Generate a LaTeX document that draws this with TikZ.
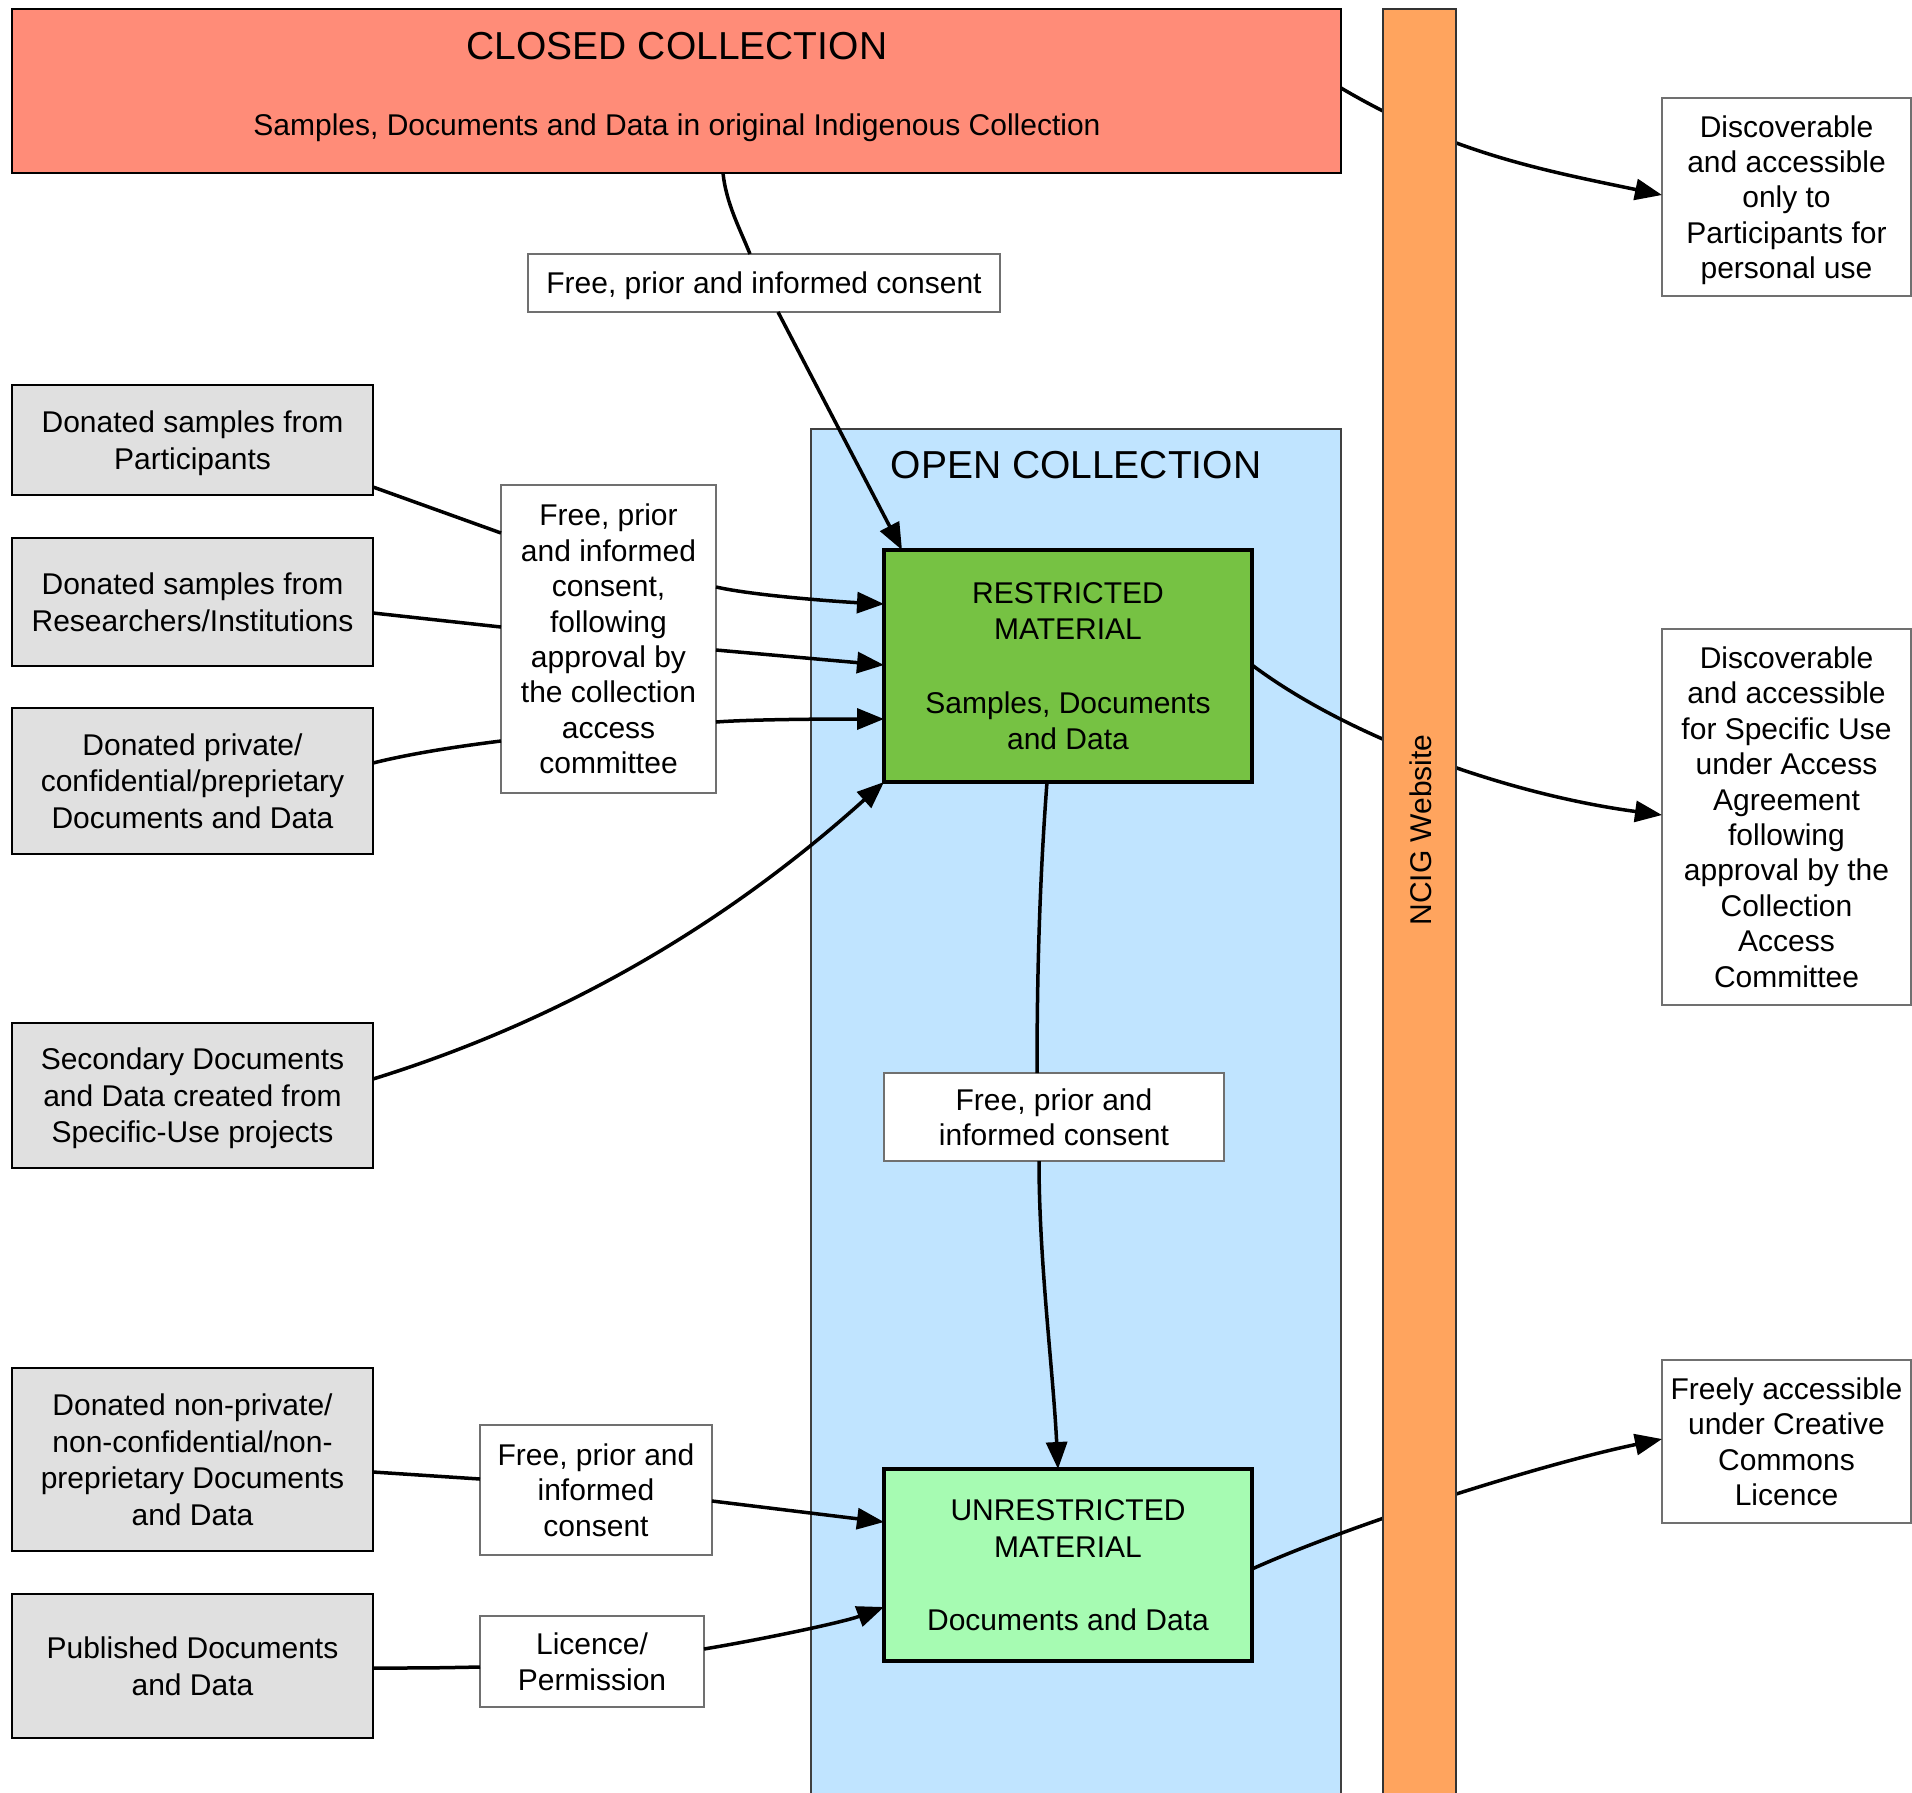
\documentclass[tikz,border=0pt]{standalone}
\usepackage{fontspec}
\setmainfont{Liberation Sans}
\usetikzlibrary{arrows.meta,calc}
\definecolor{closedc}{HTML}{FF8C78}
\definecolor{ncigc}{HTML}{FFA45E}
\definecolor{openc}{HTML}{C0E4FF}
\definecolor{restc}{HTML}{76C243}
\definecolor{unrestc}{HTML}{A6FBB2}
\definecolor{greyc}{HTML}{E0E0E0}
\definecolor{lblborder}{HTML}{707070}
\tikzset{
  struts/.style={execute at begin node={\rule{0pt}{30pt}}, execute at end node={\rule[-7pt]{0pt}{7pt}}},
  base/.style={rectangle, inner sep=2pt, outer sep=0pt, align=center, text depth=0pt, font=\fontsize{30}{36.6}\selectfont},
  gbox/.style={base, draw=black, line width=2pt, fill=greyc},
  lbl/.style={base, draw=lblborder, line width=1.5pt, fill=white, font=\fontsize{30}{35.4}\selectfont},
  rbox/.style={base, draw=lblborder, line width=1.5pt, fill=white, font=\fontsize{30}{35.4}\selectfont},
  matbox/.style={base, draw=black, line width=4pt},
  txt/.style={inner sep=0pt, outer sep=0pt, align=center, struts, font=\fontsize{30}{36.6}\selectfont},
  ttl/.style={inner sep=0pt, outer sep=0pt, align=center, execute at begin node={\rule{0pt}{39pt}}, execute at end node={\rule[-9pt]{0pt}{9pt}}, font=\fontsize{39}{46}\selectfont},
  conn/.style={line width=3.5pt, draw=black},
  arr/.style={conn, -{Triangle[length=27pt,width=21pt]}},
}
\begin{document}
\begin{tikzpicture}[x=1pt,y=-1pt]
\useasboundingbox (0,0) rectangle (1912,1792);
% open collection (background)
\node[rectangle, draw=black!75, line width=1.5pt, fill=openc, minimum width=530pt, minimum height=1370pt, outer sep=0pt, inner sep=0pt] (open) at (1076,1114) {};
\node[ttl] (opentitle) at (1076,463) {OPEN COLLECTION};
% closed collection
\node[rectangle, draw=black, line width=2pt, fill=closedc, minimum width=1329pt, minimum height=164pt, outer sep=0pt, inner sep=0pt] (closed) at (676.5,91) {};
\node[ttl] (closedtitle) at (677,44) {CLOSED COLLECTION};
\node[txt] (closedsub) at (677,124) {Samples, Documents and Data in original Indigenous Collection};
% material boxes
\node[matbox, fill=restc, minimum width=368pt, minimum height=232pt] (rest) at (1068,666) {RESTRICTED\\MATERIAL\\[36.6pt]Samples, Documents\\and Data};
\node[matbox, fill=unrestc, minimum width=368pt, minimum height=192pt] (unrest) at (1068,1565) {UNRESTRICTED\\MATERIAL\\[36.6pt]Documents and Data};
% left source boxes
\node[gbox, minimum width=361pt, minimum height=110pt] (p1) at (192.5,440) {Donated samples from\\Participants};
\node[gbox, minimum width=361pt, minimum height=128pt] (p2) at (192.5,602) {Donated samples from\\Researchers/Institutions};
\node[gbox, minimum width=361pt, minimum height=146pt] (p3) at (192.5,781) {Donated private/\\confidential/preprietary\\Documents and Data};
\node[gbox, minimum width=361pt, minimum height=145pt] (p4) at (192.5,1095.5) {Secondary Documents\\and Data created from\\Specific-Use projects};
\node[gbox, minimum width=361pt, minimum height=183pt] (p5) at (192.5,1459.5) {Donated non-private/\\non-confidential/non-\\preprietary Documents\\and Data};
\node[gbox, minimum width=361pt, minimum height=144pt] (p6) at (192.5,1666) {Published Documents\\and Data};
% labels
\node[lbl, minimum width=472pt, minimum height=58pt] (ltop) at (764,283) {Free, prior and informed consent};
\node[lbl, minimum width=215pt, minimum height=308pt] (lmid) at (608.5,639) {Free, prior\\and informed\\consent,\\following\\approval by\\the collection\\access\\committee};
\node[lbl, minimum width=340pt, minimum height=88pt] (lfpic) at (1054,1117) {Free, prior and\\informed consent};
\node[lbl, minimum width=232pt, minimum height=130pt] (lnp) at (596,1490) {Free, prior and\\informed\\consent};
\node[lbl, minimum width=224pt, minimum height=91pt] (llic) at (592,1661.5) {Licence/\\Permission};
% right boxes
\node[rbox, minimum width=249pt, minimum height=198pt] (r1) at (1786.5,197) {Discoverable\\and accessible\\only to\\Participants for\\personal use};
\node[rbox, minimum width=249pt, minimum height=376pt] (r2) at (1786.5,817) {Discoverable\\and accessible\\for Specific Use\\under Access\\Agreement\\following\\approval by the\\Collection\\Access\\Committee};
\node[rbox, minimum width=249pt, minimum height=163pt] (r3) at (1786.5,1441.5) {Freely accessible\\under Creative\\Commons\\Licence};
% connectors
\draw[conn] ([xshift=46.5pt]closed.south) .. controls +(3,30) and +(-10,-25) .. ([xshift=-14pt]ltop.north);
\draw[arr] ([xshift=14pt]ltop.south) -- ([xshift=18pt]rest.north west);
\draw[conn] ([yshift=-47pt]p1.east) -- ([yshift=106pt]lmid.west);
\draw[conn] ([yshift=-11pt]p2.east) -- ([yshift=12pt]lmid.west);
\draw[conn] ([yshift=18pt]p3.east) .. controls +(40,-10) and +(-40,5) .. ([yshift=-102pt]lmid.west);
\draw[arr] ([yshift=52pt]lmid.east) .. controls +(40,9) and +(-40,-2) .. ([yshift=62pt]rest.west);
\draw[arr] ([yshift=-11pt]lmid.east) -- ([yshift=1pt]rest.west);
\draw[arr] ([yshift=-83pt]lmid.east) .. controls +(40,-3) and +(-40,0) .. ([yshift=-53pt]rest.west);
\draw[arr] ([yshift=16.5pt]p4.east) .. controls +(200,-62) and +(-150,135) .. (rest.south west);
\draw[conn] ([xshift=-21pt]rest.south) .. controls +(-6,80) and +(0,-120) .. ([xshift=-17pt]lfpic.north);
\draw[arr] ([xshift=-15pt]lfpic.south) .. controls +(0,100) and +(-5,-100) .. ([xshift=-10pt]unrest.north);
\draw[conn] ([yshift=-12.5pt]p5.east) -- ([yshift=11pt]lnp.west);
\draw[arr] ([yshift=-11pt]lnp.east) -- ([yshift=43pt]unrest.west);
\draw[conn] ([yshift=-2pt]p6.east) .. controls +(50,0) and +(-50,1) .. ([yshift=-5.5pt]llic.west);
\draw[arr] ([yshift=12.5pt]llic.east) .. controls +(60,-10) and +(-40,15) .. ([yshift=-42pt]unrest.west);
\draw[arr] ([yshift=3pt]closed.east) .. controls +(110,65) and +(-120,-25) .. ([yshift=2pt]r1.west);
\draw[arr] ([yshift=1pt]rest.east) .. controls +(100,75) and +(-150,-20) .. ([yshift=2pt]r2.west);
\draw[arr] ([yshift=-4pt]unrest.east) .. controls +(100,-45) and +(-120,25) .. ([yshift=2.5pt]r3.west);
% NCIG website bar (drawn over the connectors)
\node[rectangle, draw=black!80, line width=2pt, fill=ncigc, minimum width=73pt, minimum height=1800pt, outer sep=0pt, inner sep=0pt] (ncig) at (1419.5,909) {};
\node[txt, rotate=90] (ncigtext) at (1420,830) {NCIG Website};
\end{tikzpicture}
\end{document}
